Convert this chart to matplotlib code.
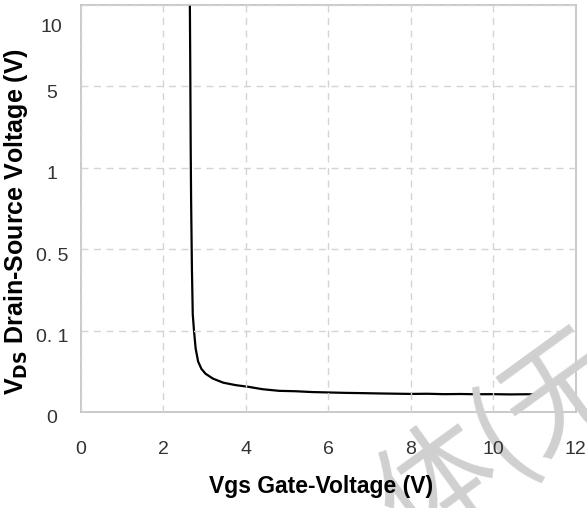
import matplotlib
matplotlib.use('Agg')
import matplotlib.pyplot as plt
import matplotlib.transforms as mtransforms
import numpy as np

plt.rcParams['font.family'] = ['Liberation Sans', 'DejaVu Sans']

# y axis is drawn with evenly spaced, non-linear ticks
y_ticks = [0, 0.1, 0.5, 1, 5, 10]
y_tick_labels = ['0', '0. 1', '0. 5', '1', '5', '10']
x_ticks = [0, 2, 4, 6, 8, 10, 12]

# curve: Vgs (V) vs Vds (V)
vgs = [2.64, 2.65, 2.66, 2.67, 2.69, 2.71, 2.74, 2.78, 2.84, 2.92, 3.02,
       3.2, 3.45, 3.75, 4.05, 4.4, 4.8, 5.2, 5.6, 6.0, 6.4, 6.8, 7.2, 7.6,
       8.0, 8.4, 8.8, 9.2, 9.6, 10.0, 10.4, 10.8, 11.1]
vds = [10, 6, 2, 0.8, 0.4, 0.18, 0.1, 0.078, 0.062, 0.053, 0.047,
       0.041, 0.036, 0.033, 0.031, 0.028, 0.026, 0.0255, 0.0245, 0.024,
       0.0235, 0.0232, 0.0228, 0.0225, 0.0222, 0.0224, 0.0219, 0.0221,
       0.0218, 0.0219, 0.0216, 0.0218, 0.0217]


def fwd(v):
    return np.interp(v, y_ticks, np.arange(len(y_ticks)))


def inv(p):
    return np.interp(p, np.arange(len(y_ticks)), y_ticks)


fig = plt.figure(figsize=(5.87, 5.08), dpi=100)
ax = fig.add_axes([0.138, 0.189, 0.843, 0.801])
ax.set_yscale('function', functions=(fwd, inv))

ax.plot(vgs, vds, color='black', lw=1.6)

ax.set_xlim(0, 12)
ax.set_ylim(0, 10)
ax.set_xticks(x_ticks)
ax.set_yticks(y_ticks)
ax.set_yticklabels(y_tick_labels)
ax.minorticks_off()
ax.tick_params(length=0, labelsize=14, colors='#333333')
ax.tick_params(axis='x', pad=21)
ax.tick_params(axis='y', pad=21)

# y tick labels sit centred and a little below their grid lines
for lbl, v in zip(ax.get_yticklabels(), y_ticks):
    lbl.set_ha('center')
    dy = -20 if v == 10 else -5
    lbl.set_transform(lbl.get_transform() +
                      mtransforms.ScaledTranslation(0, dy / 100, fig.dpi_scale_trans))

ax.grid(True, color='#d4d4d4', linestyle=(0, (5, 4)), lw=1)
for s in ax.spines.values():
    s.set_color('#c0c0c0')
    s.set_linewidth(1.2)

ax.set_xlabel('Vgs Gate-Voltage (V)', fontsize=16.5, fontweight='bold',
              family=['Liberation Sans Narrow', 'Liberation Sans', 'DejaVu Sans'])
ax.xaxis.set_label_coords(0.485, -0.155)
ax.set_ylabel(r'V$_\mathbf{DS}$ Drain-Source Voltage (V)', fontsize=18,
              fontweight='bold')
ax.yaxis.set_label_coords(-0.103, 0.467)

# watermark: over the frame, under the axis texts
ax.xaxis.set_zorder(3)
ax.yaxis.set_zorder(3)
ax.text(0.855, 0.135, '体(无', transform=fig.transFigure, clip_on=False,
        fontsize=84, color='#d0d0d0', rotation=36,
        family=['Noto Sans CJK SC', 'DejaVu Sans'],
        ha='center', va='center', rotation_mode='anchor', zorder=2.7)

fig.savefig('out.png', dpi=100)
